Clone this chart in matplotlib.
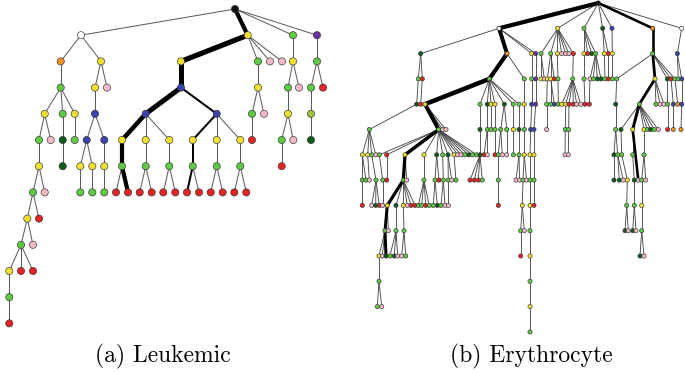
import matplotlib.pyplot as plt
from matplotlib.collections import LineCollection

# ---- (a) Leukemic tree: one entry per node ----
a_x = [235, 81, 247.7, 293, 317,
       60.7, 101, 181, 258, 270, 282, 293, 317,
       60.7, 95, 107, 181, 258, 288, 299, 311, 323,
       44.7, 62.7, 74.7, 95, 145.7, 216.7, 252, 264, 288, 311,
       39, 50.7, 62.7, 74.7, 86.7, 104.3, 122, 145.7, 169.3, 192.7, 216.7, 240.3, 252, 281.7, 293.3, 311,
       39, 62.7, 80.3, 92.3, 104.3, 122, 145.7, 169.3, 192.7, 216.7, 240.3, 281.7,
       33, 44.7, 80.3, 92.3, 104.3, 116, 128, 139.7, 151.7, 163.3, 175.3, 187, 199, 210.7, 222.7, 234.3, 246.3,
       27.3, 39, 21, 33, 9.3, 21, 33, 9.3, 9.3]
a_level = [0, 1, 1, 1, 1,
           2, 2, 2, 2, 2, 2, 2, 2,
           3, 3, 3, 3, 3, 3, 3, 3, 3,
           4, 4, 4, 4, 4, 4, 4, 4, 4, 4,
           5, 5, 5, 5, 5, 5, 5, 5, 5, 5, 5, 5, 5, 5, 5, 5,
           6, 6, 6, 6, 6, 6, 6, 6, 6, 6, 6, 6,
           7, 7, 7, 7, 7, 7, 7, 7, 7, 7, 7, 7, 7, 7, 7, 7, 7,
           8, 8, 9, 9, 10, 10, 10, 11, 12]
a_parent = [-1, 0, 0, 0, 0,
            1, 1, 2, 2, 2, 2, 3, 4,
            5, 6, 6, 7, 8, 11, 11, 12, 12,
            13, 13, 13, 14, 16, 16, 17, 17, 18, 20,
            22, 22, 23, 24, 25, 25, 26, 26, 26, 27, 27, 27, 28, 30, 30, 31,
            32, 34, 36, 36, 37, 38, 39, 40, 41, 42, 43, 45,
            48, 48, 50, 51, 52, 53, 53, 54, 54, 55, 55, 56, 56, 57, 57, 58, 58,
            60, 60, 77, 77, 79, 79, 79, 81, 84]
a_color = list("kwygv" "oyygppyg" "gypbygpgr" "ygybbbgpyl" "gpdgbbyyyyyyrgpd"
               "ydyyyggggggr" "gpgggrrrrrrrrrrrr" "yrgpyrrgr")
# heavy edges (node index -> width of the edge into it, px)
a_heavy = {2: 4.2, 7: 5.2, 16: 5.0, 26: 5.0, 38: 4.5, 53: 4.2, 66: 4.2,
           27: 2.0, 41: 2.0, 56: 2.0, 71: 2.0}

# ---- (b) Erythrocyte tree ----
b_x = [598.3, 499, 557.7, 584, 602.7, 612, 652.7, 681.7,
       420.7, 507, 531.7, 535.7, 541, 550.7, 557.3, 561.7, 565.7, 569, 573.3, 584, 587.7, 591.7, 595.7,
       604.3, 608.3, 612.3, 652.7, 677.3,
       418.3, 422.3, 489.3, 524.3, 531.7, 535.7, 541, 544.3, 547.3, 550.7, 554.3, 558, 572.7, 584, 590,
       593.3, 597.3, 601, 605, 608.3, 612.3, 616.7, 655, 667.3, 671, 675, 678.3, 681.7,
       416.7, 420.7, 425, 480, 487.3, 491, 495, 504.3, 513.3, 519, 524.3, 531.7, 535.7, 546.7, 550.7,
       554.3, 558.3, 561.7, 565.7, 569, 573.3, 576.7, 580.7, 585, 589.3, 615.7, 639.3, 656, 660, 664,
       667.7, 673.3, 677.7, 681.7,
       369.3, 438.7, 442.7, 446, 480, 487.3, 491, 495, 500.7, 506.7, 513.3, 519, 524.3, 530.7, 534,
       546.7, 565.3, 568.7, 615.7, 621, 632.7, 644, 647.3, 650.7, 654.3, 658.3, 667.7, 673.3, 681,
       362.3, 367.7, 371.7, 375.7, 379.3, 386.7, 405, 424, 436.7, 442.7, 448, 454, 457.7, 461, 465,
       469, 472.7, 476.7, 480, 484, 487.3, 495, 498.3, 502.3, 506.7, 513.3, 519, 524.3, 530, 534,
       565, 568.3, 614, 617.7, 621.7, 632.7, 644,
       362.3, 366, 369.3, 376, 382.7, 386.7, 403.3, 406.7, 424, 435, 439, 443.3, 448.3, 451.7, 456,
       470, 474.3, 478.3, 482.3, 498.3, 516, 519.5, 523, 526.5, 530, 534, 614, 619.3, 623.3, 627.3,
       634.3, 638.3, 641.7, 645.7,
       362.3, 371.7, 375.7, 379.3, 382.7, 387.3, 396, 403.3, 407.3, 411, 415, 418.3, 421.7, 425.7,
       429.3, 433.3, 437.3, 441, 445, 448.3, 498.3, 522.3, 530, 534, 626.7, 634.3, 641.7,
       385, 388.3, 396, 404, 520.7, 524.3, 530, 625, 628.3, 632.7, 636, 641.7,
       379, 382.3, 386, 390, 394.3, 397.7, 401.7, 405.7, 520.7, 530, 640, 644,
       379, 530, 377.3, 381.7, 530, 530]
b_level = ([0] + [1] * 7 + [2] * 20 + [3] * 28 + [4] * 34 + [5] * 29 + [6] * 37 + [7] * 34
           + [8] * 27 + [9] * 12 + [10] * 12 + [11] * 2 + [12] * 3 + [13])
b_parent = [-1, 0, 0, 0, 0, 0, 0, 0,
            1, 1, 1, 1, 2, 2, 2, 2, 2, 2, 2, 3, 3, 3, 3, 4, 4, 5, 6, 7,
            8, 8, 9, 9, 10, 11, 12, 12, 13, 13, 13, 14, 18, 19, 22, 22, 22, 22, 23, 24, 25, 26, 26, 26,
            26, 26, 27, 27,
            28, 29, 30, 30, 30, 30, 30, 30, 30, 30, 31, 32, 33, 36, 37, 37, 39, 40, 40, 40, 40, 40, 40,
            41, 42, 49, 50, 50, 50, 50, 51, 52, 53, 55,
            56, 58, 58, 58, 59, 60, 61, 62, 63, 63, 64, 65, 66, 67, 68, 69, 74, 75, 81, 82, 82, 82, 82,
            82, 82, 82, 86, 87, 89,
            90, 90, 90, 90, 91, 91, 91, 91, 91, 91, 91, 91, 91, 91, 91, 91, 91, 91, 94, 95, 95, 97, 98,
            98, 99, 100, 101, 102, 103, 104, 106, 107, 108, 108, 109, 110, 111,
            119, 119, 120, 121, 123, 124, 125, 125, 126, 127, 127, 128, 129, 129, 130, 137, 137, 137,
            137, 141, 145, 145, 146, 146, 147, 148, 151, 152, 152, 153, 154, 110, 155, 155,
            156, 159, 159, 159, 160, 162, 162, 162, 162, 162, 162, 164, 164, 164, 164, 165, 165, 167,
            167, 168, 175, 178, 180, 181, 185, 186, 188,
            195, 195, 196, 197, 211, 211, 212, 214, 214, 215, 215, 216,
            217, 217, 217, 219, 219, 219, 220, 220, 221, 223, 228, 228,
            229, 238, 241, 241, 242, 245]
b_color = list("k" "wygdbow" "doyvggypppryrdgyrygb" "grgggvypyyrgggpgddgrggydrggb"
               "drygdyydggybvggbgyyrrpprrdggppgbob" "ggppdgggggydgbbpgggdyygdgproo"
               "yygpgryydgdyppgdggdrprgppggyyyppdgggg" "ggpggrgpggrggpgrrrggppgpggddpydpgp"
               "rpdrpydyprrggrggdgppryyrggy" "gpgggpgdpdpg" "ypdgdppgrydp" "gg" "gpy" "g")
b_heavy = {1: 4.2, 9: 4.0, 30: 4.2, 58: 4.5, 91: 4.0, 125: 3.5, 162: 3.2, 195: 3.2, 217: 3.0,
           231: 3.0, 6: 2.6, 26: 2.6, 50: 2.8, 82: 2.8, 110: 3.0, 187: 2.6}

palette = {'k': '#111111', 'w': '#ffffff', 'y': '#efe030', 'g': '#5ec943', 'd': '#0d5c18',
           'r': '#e12424', 'p': '#f5b9c6', 'b': '#3a43ab', 'o': '#f0921f', 'v': '#6e2ea0',
           'l': '#9ac43a'}

captions = ['(a) Leukemic', '(b) Erythrocyte']
caption_x = [163, 531]


def draw_tree(ax, xs, levels, parents, colors, heavy, y0, dy, node_px, thin_px, thin_col):
    ys = [y0 + dy * lv for lv in levels]
    px2pt = 0.72
    thin, bold, bold_w = [], [], []
    for i, p in enumerate(parents):
        if p < 0:
            continue
        seg = [(xs[p], ys[p]), (xs[i], ys[i])]
        if i in heavy:
            bold.append(seg)
            bold_w.append(heavy[i] * px2pt)
        else:
            thin.append(seg)
    ax.add_collection(LineCollection(thin, colors=thin_col, linewidths=thin_px * px2pt, zorder=1))
    ax.add_collection(LineCollection(bold, colors='black', linewidths=bold_w, zorder=2,
                                     capstyle='round'))
    ax.scatter(xs, ys, s=(node_px * px2pt) ** 2, c=[palette[c] for c in colors],
               edgecolors='#333333', linewidths=0.45, zorder=3)


fig = plt.figure(figsize=(6.85, 3.74), dpi=100)
ax = fig.add_axes([0, 0, 1, 1])
ax.set_xlim(0, 685)
ax.set_ylim(374, 0)
ax.axis('off')

draw_tree(ax, a_x, a_level, a_parent, a_color, a_heavy, 9, 26.2, 7.2, 1.0, '#5a5a5a')
draw_tree(ax, b_x, b_level, b_parent, b_color, b_heavy, 3, 25.3, 4.2, 0.85, '#404040')

for txt, cx in zip(captions, caption_x):
    ax.text(cx, 356, txt, ha='center', va='center', fontsize=17, family='cmr10')

fig.savefig('out.png', dpi=100)
